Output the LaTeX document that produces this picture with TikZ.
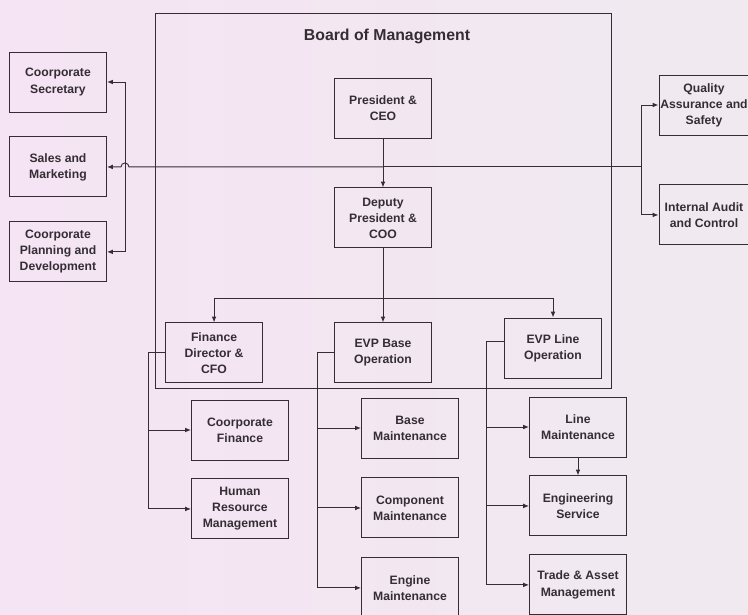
\documentclass[tikz,border=0pt]{standalone}
\usepackage{fontspec}
\setmainfont{Liberation Sans}
\usetikzlibrary{arrows.meta, positioning, calc}
\definecolor{paperl}{RGB}{245,228,243}
\definecolor{paperr}{RGB}{240,234,240}
\definecolor{ink}{RGB}{52,46,52}

\begin{document}
\begin{tikzpicture}[x=0.03cm, y=-0.03cm, node distance=0.54cm, font=\fontsize{10.4}{13.7}\selectfont\bfseries,
          unitbox/.style={rectangle, draw=ink, line width=0.8pt, text=ink, minimum width=2.91cm, minimum height=1.8cm, align=center, inner sep=1pt},
          arrow/.style={-{Latex[length=5pt,width=4pt]}, draw=ink, line width=0.8pt},
          bothways/.style={{Latex[length=5pt,width=4pt]}-{Latex[length=5pt,width=4pt]}, draw=ink, line width=0.8pt}]
        \useasboundingbox (0,0) rectangle (748,615);
        \clip (0,0) rectangle (748,615);
        \shade[left color=paperl, right color=paperr] (0,0) rectangle (748,615);

        \node [draw=ink, line width=0.8pt, minimum width=13.68cm, minimum height=11.25cm, inner sep=0pt] (bom) at (383,200.5) {};
        \node [text=ink, font=\fontsize{13.5}{16}\selectfont\bfseries] (bomtitle) at (387,36) {Board of Management};

        \node [unitbox] (sec) at (58,82) {Coorporate\\Secretary};
        \node [unitbox, below=0.72cm of sec] (sales) {Sales and\\Marketing};
        \node [unitbox, below=0.72cm of sales] (plan) {Coorporate\\Planning and\\Development};

        \node [unitbox] (ceo) at (383,108) {President \&\\CEO};
        \node [unitbox, below=1.47cm of ceo] (coo) {Deputy\\President \&\\COO};
        \node [unitbox, below=2.22cm of coo] (evpb) {EVP Base\\Operation};
        \node [unitbox, left=2.13cm of evpb] (cfo) {Finance\\Director \&\\CFO};
        \node [unitbox] (evpl) at (553,348) {EVP Line\\Operation};

        \node [unitbox, minimum width=2.7cm] (qas) at (704,105) {Quality\\Assurance and\\Safety};
        \node [unitbox, minimum width=2.7cm, below=1.47cm of qas] (iac) {Internal Audit\\and Control};

        \node [unitbox] (cfin) at (240,430) {Coorporate\\Finance};
        \node [unitbox, below=0.54cm of cfin] (hrm) {Human\\Resource\\Management};

        \node [unitbox] (bmx) at (410,428) {Base\\Maintenance};
        \node [unitbox, below=0.57cm of bmx] (cmx) {Component\\Maintenance};
        \node [unitbox, below=0.57cm of cmx] (emx) {Engine\\Maintenance};

        \node [unitbox] (lmx) at (578,427) {Line\\Maintenance};
        \node [unitbox, below=0.54cm of lmx] (eng) {Engineering\\Service};
        \node [unitbox, below=0.54cm of eng] (tam) {Trade \& Asset\\Management};

        % top of the chart
        \coordinate (midjoint) at (ceo.south |- sales.east);
        \coordinate [right=0.54cm of sec.east] (secbus);
        \coordinate [left=0.5cm of qas.west] (qabus);
        \draw [arrow] (ceo) -- (coo);
        \draw [arrow] (midjoint) -- ($(secbus |- sales.east)+(4,0)$) arc[start angle=0, end angle=-180, radius=4] -- (sales.east);
        \draw [bothways] (sec.east) -- (secbus) -- (secbus |- plan.east) -- (plan.east);
        \draw [arrow] (midjoint) -| (qabus) -- (qas.west);
        \draw [arrow] (qabus |- midjoint) |- (iac.west);

        % directors
        \coordinate (midbus) at ($(coo.south)!0.68!(evpb.north)$);
        \draw [arrow] (coo) -- (evpb);
        \draw [arrow] (midbus) -| (cfo.north);
        \draw [arrow] (midbus) -| (evpl.north);

        % units below the board
        \coordinate [left=0.51cm of cfo.west] (cfobus);
        \draw [arrow] (cfo.west) -- (cfobus) |- (cfin.west);
        \draw [arrow] (cfobus) |- (hrm.west);
        \coordinate [left=0.51cm of evpb.west] (evpbbus);
        \draw [arrow] (evpb.west) -- (evpbbus) |- (bmx.west);
        \draw [arrow] (evpbbus) |- (cmx.west);
        \draw [arrow] (evpbbus) |- (emx.west);
        \coordinate (evplout) at ([yshift=0.21cm]evpl.west);
        \coordinate [left=0.54cm of evplout] (evplbus);
        \draw [arrow] (evplout) -- (evplbus) |- (lmx.west);
        \draw [arrow] (evplbus) |- (eng.west);
        \draw [arrow] (evplbus) |- (tam.west);
        \draw [arrow] (lmx) -- (eng);
      \end{tikzpicture}
\end{document}
